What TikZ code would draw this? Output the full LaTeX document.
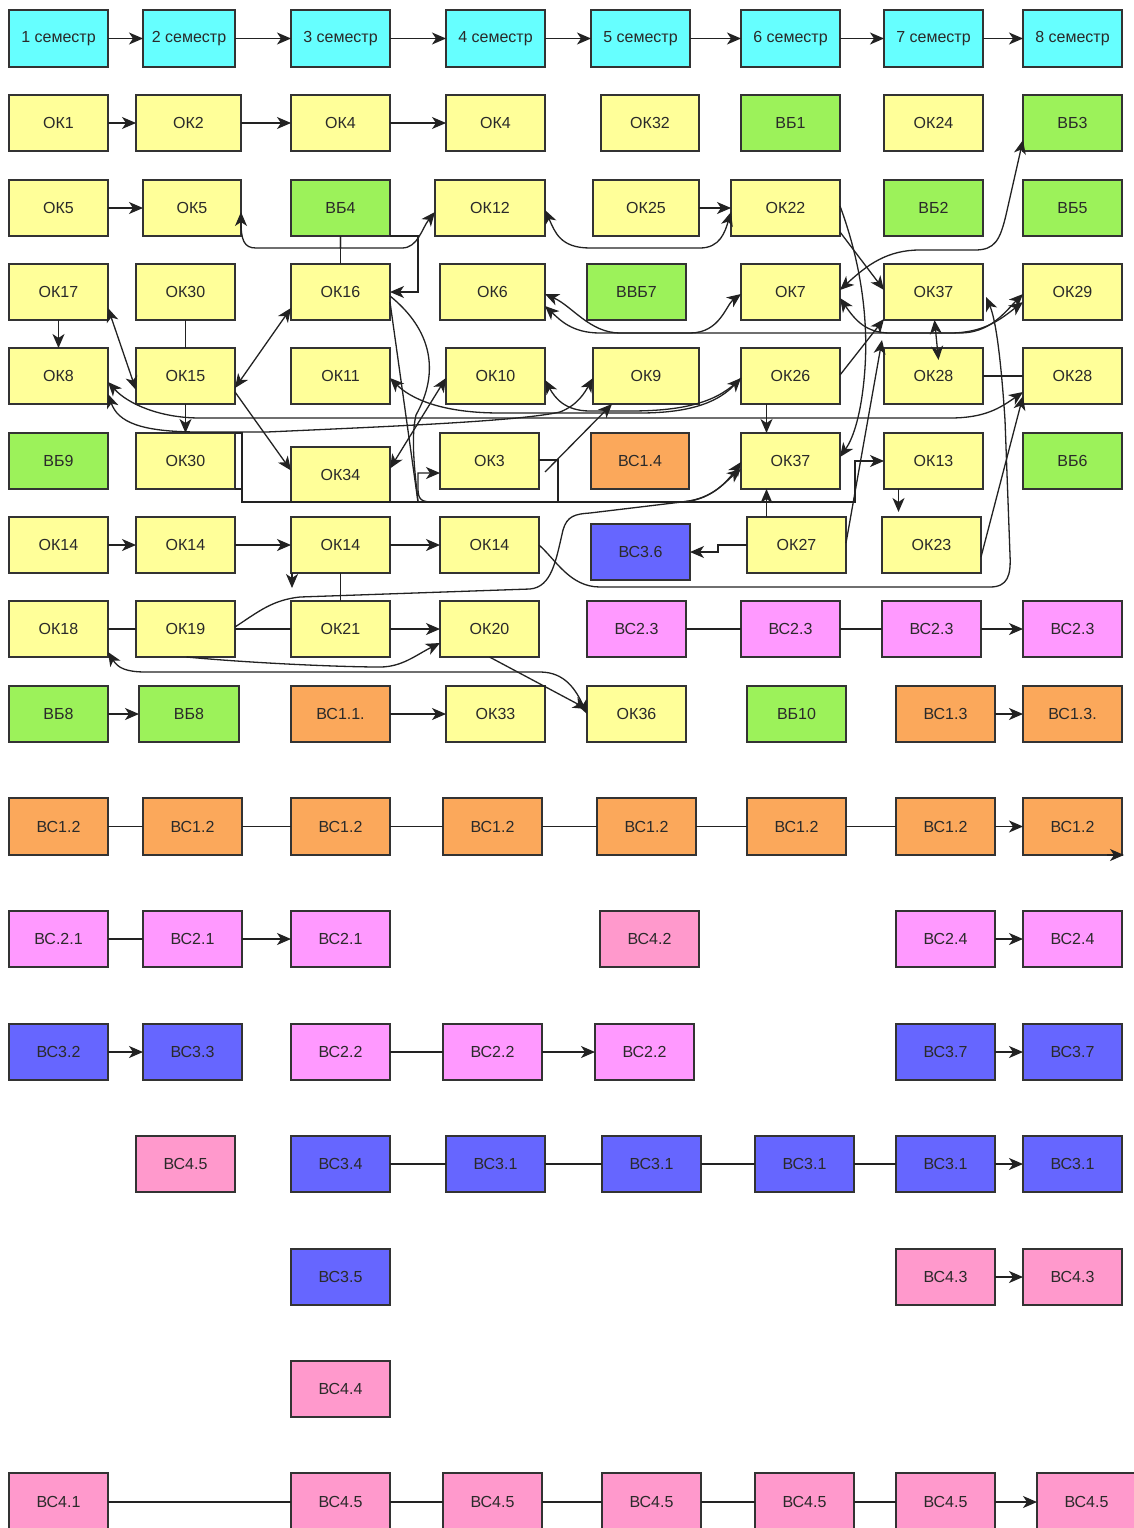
\documentclass[tikz,border=0pt]{standalone}
\usepackage{fontspec}
\setmainfont{Liberation Sans}
\usetikzlibrary{arrows.meta,calc}
\definecolor{cyc}{HTML}{66FFFF}
\definecolor{ylc}{HTML}{FFFF99}
\definecolor{grc}{HTML}{9CF25A}
\definecolor{orc}{HTML}{FBA85B}
\definecolor{vic}{HTML}{FF99FF}
\definecolor{pkc}{HTML}{FF99CC}
\definecolor{blc}{HTML}{6666FF}
\definecolor{bdc}{HTML}{333333}
\definecolor{lnc}{HTML}{222222}
\definecolor{txc}{HTML}{2A2A2A}
\newcommand\mybox[7]{%
 \pgfmathsetmacro\bw{#4-#2}\pgfmathsetmacro\bh{#5-#3}%
 \pgfmathsetmacro\bcx{(#2+#4)/2}\pgfmathsetmacro\bcy{(#3+#5)/2}%
 \node[#6,minimum width=\bw pt,minimum height=\bh pt] (#1) at (\bcx,\bcy) {#7};}
\begin{document}
\begin{tikzpicture}[x=1pt,y=-1pt,
 bxs/.style={draw=bdc,line width=1.3pt,inner sep=0pt,outer sep=0pt,font=\fontsize{16}{19}\selectfont,text=txc},
 sem/.style={bxs,fill=cyc},
 ok/.style={bxs,fill=ylc},
 vb/.style={bxs,fill=grc},
 vso/.style={bxs,fill=orc},
 vsv/.style={bxs,fill=vic},
 vsp/.style={bxs,fill=pkc},
 vsb/.style={bxs,fill=blc},
 cn/.style={draw=lnc,line width=1.3pt},
 ca/.style={cn,-{Stealth[length=14pt,width=12pt,inset=4pt]}},
 cd/.style={cn,{Stealth[length=14pt,width=12pt,inset=4pt]}-{Stealth[length=14pt,width=12pt,inset=4pt]}}]
\fill[white] (0,0) rectangle (1134,1528);
\useasboundingbox (0,0) rectangle (1134,1528);
% row 1
\mybox{s1}{9}{10}{108}{67}{sem}{1 семестр}
\mybox{s2}{143}{10}{235}{67}{sem}{2 семестр}
\mybox{s3}{291}{10}{390}{67}{sem}{3 семестр}
\mybox{s4}{446}{10}{545}{67}{sem}{4 семестр}
\mybox{s5}{591}{10}{690}{67}{sem}{5 семестр}
\mybox{s6}{741}{10}{840}{67}{sem}{6 семестр}
\mybox{s7}{884}{10}{983}{67}{sem}{7 семестр}
\mybox{s8}{1023}{10}{1122}{67}{sem}{8 семестр}
% row 2
\mybox{a1}{9}{95}{108}{151}{ok}{ОК1}
\mybox{a2}{136}{95}{241}{151}{ok}{ОК2}
\mybox{a3}{291}{95}{390}{151}{ok}{ОК4}
\mybox{a4}{446}{95}{545}{151}{ok}{ОК4}
\mybox{a5}{601}{95}{699}{151}{ok}{ОК32}
\mybox{a6}{741}{95}{840}{151}{vb}{ВБ1}
\mybox{a7}{884}{95}{983}{151}{ok}{ОК24}
\mybox{a8}{1023}{95}{1122}{151}{vb}{ВБ3}
% row 3
\mybox{b1}{9}{180}{108}{236}{ok}{ОК5}
\mybox{b2}{143}{180}{241}{236}{ok}{ОК5}
\mybox{b3}{291}{180}{390}{236}{vb}{ВБ4}
\mybox{b4}{435}{180}{545}{236}{ok}{ОК12}
\mybox{b5}{593}{180}{699}{236}{ok}{ОК25}
\mybox{b6}{731}{180}{840}{236}{ok}{ОК22}
\mybox{b7}{884}{180}{983}{236}{vb}{ВБ2}
\mybox{b8}{1023}{180}{1122}{236}{vb}{ВБ5}
% row 4
\mybox{c1}{9}{264}{108}{320}{ok}{ОК17}
\mybox{c2}{136}{264}{235}{320}{ok}{ОК30}
\mybox{c3}{291}{264}{390}{320}{ok}{ОК16}
\mybox{c4}{440}{264}{545}{320}{ok}{ОК6}
\mybox{c5}{587}{264}{686}{320}{vb}{ВВБ7}
\mybox{c6}{741}{264}{840}{320}{ok}{ОК7}
\mybox{c7}{884}{264}{983}{320}{ok}{ОК37}
\mybox{c8}{1023}{264}{1122}{320}{ok}{ОК29}
% row 5
\mybox{d1}{9}{348}{108}{404}{ok}{ОК8}
\mybox{d2}{136}{348}{235}{404}{ok}{ОК15}
\mybox{d3}{291}{348}{390}{404}{ok}{ОК11}
\mybox{d4}{446}{348}{545}{404}{ok}{ОК10}
\mybox{d5}{593}{348}{699}{404}{ok}{ОК9}
\mybox{d6}{741}{348}{840}{404}{ok}{ОК26}
\mybox{d7}{884}{348}{983}{404}{ok}{ОК28}
\mybox{d8}{1023}{348}{1122}{404}{ok}{ОК28}
% row 6
\mybox{e1}{9}{433}{108}{489}{vb}{ВБ9}
\mybox{e2}{136}{433}{235}{489}{ok}{ОК30}
\mybox{e3}{291}{447}{390}{502}{ok}{ОК34}
\mybox{e4}{440}{433}{539}{489}{ok}{ОК3}
\mybox{e5}{591}{433}{689}{489}{vso}{ВС1.4}
\mybox{e6}{741}{433}{840}{489}{ok}{ОК37}
\mybox{e7}{884}{433}{983}{489}{ok}{ОК13}
\mybox{e8}{1023}{433}{1122}{489}{vb}{ВБ6}
% row 7
\mybox{f1}{9}{517}{108}{573}{ok}{ОК14}
\mybox{f2}{136}{517}{235}{573}{ok}{ОК14}
\mybox{f3}{291}{517}{390}{573}{ok}{ОК14}
\mybox{f4}{440}{517}{539}{573}{ok}{ОК14}
\mybox{f5}{591}{524}{690}{580}{vsb}{ВС3.6}
\mybox{f6}{747}{517}{846}{573}{ok}{ОК27}
\mybox{f7}{882}{517}{981}{573}{ok}{ОК23}
% row 8
\mybox{g1}{9}{601}{108}{657}{ok}{ОК18}
\mybox{g2}{136}{601}{235}{657}{ok}{ОК19}
\mybox{g3}{291}{601}{390}{657}{ok}{ОК21}
\mybox{g4}{440}{601}{539}{657}{ok}{ОК20}
\mybox{g5}{587}{601}{686}{657}{vsv}{ВС2.3}
\mybox{g6}{741}{601}{840}{657}{vsv}{ВС2.3}
\mybox{g7}{882}{601}{981}{657}{vsv}{ВС2.3}
\mybox{g8}{1023}{601}{1122}{657}{vsv}{ВС2.3}
% row 9
\mybox{h1}{9}{686}{108}{742}{vb}{ВБ8}
\mybox{h2}{139}{686}{239}{742}{vb}{ВБ8}
\mybox{h3}{291}{686}{390}{742}{vso}{ВС1.1.}
\mybox{h4}{446}{686}{545}{742}{ok}{ОК33}
\mybox{h5}{587}{686}{686}{742}{ok}{ОК36}
\mybox{h6}{747}{686}{846}{742}{vb}{ВБ10}
\mybox{h7}{896}{686}{995}{742}{vso}{ВС1.3}
\mybox{h8}{1023}{686}{1122}{742}{vso}{ВС1.3.}
% row 10
\mybox{i1}{9}{798}{108}{855}{vso}{ВС1.2}
\mybox{i2}{143}{798}{242}{855}{vso}{ВС1.2}
\mybox{i3}{291}{798}{390}{855}{vso}{ВС1.2}
\mybox{i4}{443}{798}{542}{855}{vso}{ВС1.2}
\mybox{i5}{597}{798}{696}{855}{vso}{ВС1.2}
\mybox{i6}{747}{798}{846}{855}{vso}{ВС1.2}
\mybox{i7}{896}{798}{995}{855}{vso}{ВС1.2}
\mybox{i8}{1023}{798}{1122}{855}{vso}{ВС1.2}
% row 11
\mybox{j1}{9}{911}{108}{967}{vsv}{ВС.2.1}
\mybox{j2}{143}{911}{242}{967}{vsv}{ВС2.1}
\mybox{j3}{291}{911}{390}{967}{vsv}{ВС2.1}
\mybox{j4}{600}{911}{699}{967}{vsp}{ВС4.2}
\mybox{j5}{896}{911}{995}{967}{vsv}{ВС2.4}
\mybox{j6}{1023}{911}{1122}{967}{vsv}{ВС2.4}
% row 12
\mybox{k1}{9}{1024}{108}{1080}{vsb}{ВС3.2}
\mybox{k2}{143}{1024}{242}{1080}{vsb}{ВС3.3}
\mybox{k3}{291}{1024}{390}{1080}{vsv}{ВС2.2}
\mybox{k4}{443}{1024}{542}{1080}{vsv}{ВС2.2}
\mybox{k5}{595}{1024}{694}{1080}{vsv}{ВС2.2}
\mybox{k6}{896}{1024}{995}{1080}{vsb}{ВС3.7}
\mybox{k7}{1023}{1024}{1122}{1080}{vsb}{ВС3.7}
% row 13
\mybox{l1}{136}{1136}{235}{1192}{vsp}{ВС4.5}
\mybox{l2}{291}{1136}{390}{1192}{vsb}{ВС3.4}
\mybox{l3}{446}{1136}{545}{1192}{vsb}{ВС3.1}
\mybox{l4}{602}{1136}{701}{1192}{vsb}{ВС3.1}
\mybox{l5}{755}{1136}{854}{1192}{vsb}{ВС3.1}
\mybox{l6}{896}{1136}{995}{1192}{vsb}{ВС3.1}
\mybox{l7}{1023}{1136}{1122}{1192}{vsb}{ВС3.1}
% row 14
\mybox{m1}{291}{1249}{390}{1305}{vsb}{ВС3.5}
\mybox{m2}{896}{1249}{995}{1305}{vsp}{ВС4.3}
\mybox{m3}{1023}{1249}{1122}{1305}{vsp}{ВС4.3}
% row 15
\mybox{n1}{291}{1361}{390}{1417}{vsp}{ВС4.4}
% row 16
\mybox{o1}{9}{1473}{108}{1531}{vsp}{ВС4.1}
\mybox{o2}{291}{1473}{390}{1531}{vsp}{ВС4.5}
\mybox{o3}{443}{1473}{542}{1531}{vsp}{ВС4.5}
\mybox{o4}{602}{1473}{701}{1531}{vsp}{ВС4.5}
\mybox{o5}{755}{1473}{854}{1531}{vsp}{ВС4.5}
\mybox{o6}{896}{1473}{995}{1531}{vsp}{ВС4.5}
\mybox{o7}{1037}{1473}{1136}{1531}{vsp}{ВС4.5}
% ---------- connectors ----------
\foreach \p/\q in {s1/s2,s2/s3,s3/s4,s4/s5,s5/s6,s6/s7,s7/s8} \draw[ca] (\p) -- (\q);
\draw[ca] (a1) -- (a2); \draw[ca] (a2) -- (a3); \draw[ca] (a3) -- (a4);
\draw[ca] (b1) -- (b2); \draw[ca] (b5) -- (b6);
\draw[cd] ([yshift=-2pt]b4.east) .. controls (555,232) and (560,248) .. (590,248) -- (700,248) .. controls (720,248) and (725,232) .. ([yshift=-4pt]b6.west);
% VB4
\draw[cn] (b3.south) -- (c3.north);
\draw[ca] (b3.south) -- ++(0,12) -- (256,248) .. controls (244,248) and (241,240) .. ([yshift=-4pt]b2.east);
\draw[ca] (b3.south) -- ++(0,12) -- (402,248) .. controls (418,248) and (422,228) .. ([yshift=-4pt]b4.west);
\draw[ca] (b3.south east) -- (418,236) -- (418,292) -- (c3.east);
% left middle
\draw[ca] (c1) -- (d1);
\draw[cn] (c2) -- (d2);
\draw[ca] (d2) -- (e2);
\draw[cd] ([yshift=-16pt]c1.east) -- ([yshift=-14pt]d2.west);
\draw[cd] ([yshift=-16pt]c3.west) -- ([yshift=-12pt]d2.east);
\draw[ca] ([yshift=-16pt]d2.east) -- ([yshift=4pt]e3.west);
% OK8 curves
\draw[cd] ([yshift=-16pt]d8.west) .. controls (1000,408) and (985,418) .. (950,418) -- (200,418) .. controls (160,418) and (128,404) .. ([yshift=-6pt]d1.east);
\draw[cd] ([yshift=-18pt]d1.east) .. controls (118,422) and (140,432) .. (200,432) -- (267,432) .. controls (400,426) and (520,421) .. (560,412) .. controls (578,405) and (585,392) .. ([yshift=-2pt]d5.west);
% OK26 -> OK11, OK10
\draw[cd] ([yshift=-2pt]d6.west) .. controls (720,400) and (695,413) .. (640,413) -- (500,413) .. controls (440,413) and (410,398) .. ([yshift=-2pt]d3.east);
\draw[ca] ([yshift=-2pt]d6.west) .. controls (720,400) and (690,411) .. (630,411) -- (590,411) .. controls (565,411) and (555,398) .. ([yshift=-4pt]d4.east);
% OK16 down lines
\draw[cn] ([yshift=-4pt]c3.east) .. controls (432,330) and (440,372) .. (416,415) .. controls (410,440) and (416,480) .. (418,502);
\draw[cn] ([yshift=-10pt]c3.east) -- (418,502);
\draw[cd] ([yshift=6pt]e3.east) -- ([yshift=-2pt]d4.west);
% bus
\draw[ca] (e2.north east) -- (242,433) -- (242,502) -- (855,502) -- (855,461) -- (e7.west);
\draw[cn] (e2.south east) -- (242,489);
\draw[ca] (432,502) .. controls (420,502) and (418,498) .. (418,488) -- (418,473) -- ([yshift=-12pt]e4.west);
\draw[cn] ([yshift=1pt]e4.east) -- (558,460) -- (558,502);
\draw[ca] ([xshift=6pt,yshift=-11pt]e4.east) -- ([xshift=-34pt]d5.south);
\draw[ca] (680,502) .. controls (712,500) and (725,482) .. ([yshift=-8pt]e6.west);
% OK19 -> OK37
\draw[ca] ([yshift=2pt]g2.east) .. controls (258,612) and (272,600) .. (300,597) -- (530,589) .. controls (552,587) and (556,560) .. (563,530) .. controls (567,516) and (575,514) .. (590,513) -- (690,501) .. controls (715,497) and (730,478) .. ([yshift=-1pt]e6.west);
% right side
\draw[ca] ([yshift=-24pt]b6.east) -- ([yshift=2pt]c7.west);
\draw[ca] ([yshift=2pt]b6.east) .. controls (860,260) and (870,320) .. (864,380) .. controls (860,420) and (852,440) .. ([yshift=4pt]e6.east);
\draw[cd] ([yshift=2pt]c6.east) .. controls (868,264) and (888,250) .. (920,250) -- (975,250) .. controls (995,250) and (1000,240) .. (1006,215) -- ([yshift=-17pt]a8.west);
\draw[cd] ([yshift=-2pt]c4.east) .. controls (572,306) and (590,333) .. (620,333) -- (690,333) .. controls (720,333) and (726,305) .. ([yshift=-2pt]c6.west);
\draw[cd] ([yshift=-14pt]c4.east) .. controls (560,320) and (572,333) .. (600,333) -- (950,333) .. controls (985,333) and (1002,318) .. ([yshift=-10pt]c8.west);
\draw[cd] ([yshift=-6pt]c6.east) .. controls (855,320) and (866,333) .. (890,333) -- (960,333) .. controls (990,333) and (1005,312) .. ([yshift=-2pt]c8.west);
\draw[ca] ([yshift=1pt]d6.east) -- ([yshift=-27pt]c7.west);
\draw[ca] ([yshift=2pt]f6.east) -- ([xshift=-2pt,yshift=-48pt]c7.west);
\draw[cd] ([xshift=5pt,yshift=-12pt]d7.north) -- ([xshift=1pt]c7.south);
\draw[cn] (d7) -- (d8);
\draw[ca] ([xshift=-24pt]d6.south) -- ([xshift=-24pt]e6.north);
\draw[ca] ([xshift=-30pt]f6.north) -- ([xshift=-24pt]e6.south);
\draw[ca] (f6.west) -- (718,545) -- (718,552) -- (f5.east);
\draw[ca] ([xshift=-35pt]e7.south) -- ++(0,23);
\draw[ca] ([yshift=-12pt]f7.east) -- ([yshift=-20pt]d8.west);
\draw[ca] (f4.east) .. controls (556,560) and (570,587) .. (600,587) -- (990,587) .. controls (1008,587) and (1011,575) .. (1010,555) -- (1005,420) .. controls (1001,360) and (996,320) .. ([xshift=3pt,yshift=-5pt]c7.east);
% rows 7-9
\draw[ca] (f1) -- (f2); \draw[ca] (f2) -- (f3); \draw[ca] (f3) -- (f4);
\draw[ca] ([xshift=1pt]f3.south west) -- ++(0,15);
\draw[cn] (f3.south) -- (g3.north);
\draw[cn] (g1) -- (g2); \draw[cn] (g2) -- (g3); \draw[ca] (g3) -- (g4);
\draw[cn] (g5) -- (g6); \draw[cn] (g6) -- (g7); \draw[ca] (g7) -- (g8);
\draw[ca] ([xshift=1pt]g2.south) .. controls (250,663) and (340,667) .. (380,667) .. controls (402,667) and (416,655) .. ([yshift=-14pt]g4.west);
\draw[cd] ([yshift=-23pt]g1.east) .. controls (118,668) and (126,672) .. (146,672) -- (540,672) .. controls (565,672) and (576,690) .. (h5.west);
\draw[ca] (g4.south) -- ([yshift=5pt]h5.west);
\draw[ca] (h1) -- (h2); \draw[ca] (h3) -- (h4); \draw[ca] (h7) -- (h8);
% lower rows
\foreach \p/\q in {i1/i2,i2/i3,i3/i4,i4/i5,i5/i6,i6/i7} \draw[cn] (\p) -- (\q);
\draw[ca] (i7) -- (i8);
\draw[ca] ([xshift=-15pt]i8.south east) -- ([xshift=2pt]i8.south east);
\draw[cn] (j1) -- (j2); \draw[ca] (j2) -- (j3); \draw[ca] (j5) -- (j6);
\draw[ca] (k1) -- (k2); \draw[cn] (k3) -- (k4); \draw[ca] (k4) -- (k5); \draw[ca] (k6) -- (k7);
\foreach \p/\q in {l2/l3,l3/l4,l4/l5,l5/l6} \draw[cn] (\p) -- (\q);
\draw[ca] (l6) -- (l7);
\draw[ca] (m2) -- (m3);
\foreach \p/\q in {o1/o2,o2/o3,o3/o4,o4/o5,o5/o6} \draw[cn] (\p) -- (\q);
\draw[ca] (o6) -- (o7);
\end{tikzpicture}
\end{document}
